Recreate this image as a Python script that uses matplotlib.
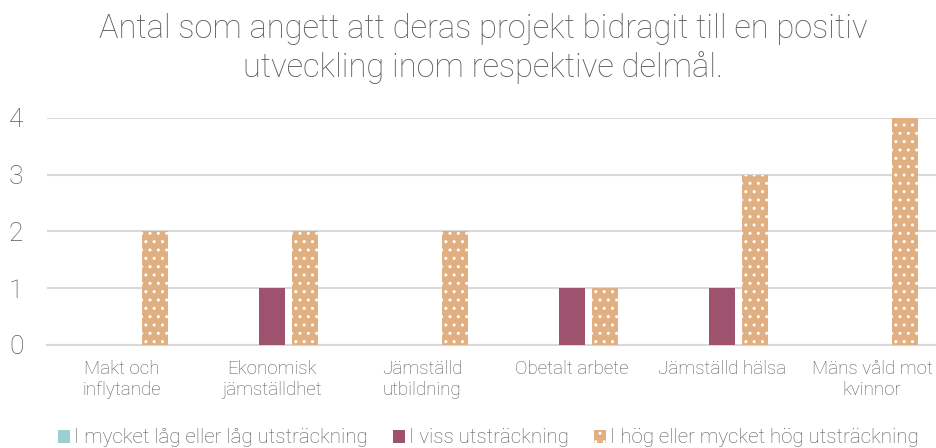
import matplotlib
matplotlib.use("Agg")
import matplotlib.pyplot as plt
import numpy as np

plt.rcParams['font.family'] = ['Roboto', 'DejaVu Sans']
plt.rcParams['font.weight'] = 'light'
plt.rcParams['hatch.linewidth'] = 1.0

title = "Antal som angett att deras projekt bidragit till en positiv\nutveckling inom respektive delmål."
categories = ["Makt och\ninflytande", "Ekonomisk\njämställdhet", "Jämställd\nutbildning",
              "Obetalt arbete", "Jämställd hälsa", "Mäns våld mot\nkvinnor"]
series_names = ["I mycket låg eller låg utsträckning", "I viss utsträckning",
                "I hög eller mycket hög utsträckning"]
low = [0, 0, 0, 0, 0, 0]
some = [0, 1, 0, 1, 1, 0]
high = [2, 2, 2, 1, 3, 4]
yticks = [0, 1, 2, 3, 4]

colors = ["#9ECFCF", "#9E526E", "#E0AF82"]
gray = "#595959"

fig = plt.figure(figsize=(9.37, 4.48), dpi=100)
ax = fig.add_axes([47 / 937, 0.23, 900 / 937, 0.507])

x = np.arange(len(categories))
w = 0.173
off = 0.22
ax.bar(x - off, low, w, color=colors[0], label=series_names[0], zorder=3)
ax.bar(x, some, w, color=colors[1], label=series_names[1], zorder=3)
ax.bar(x + off, high, w, color=colors[2], label=series_names[2], hatch='..',
       edgecolor='white', linewidth=0, zorder=3)

ax.set_xlim(-0.5, len(categories) - 0.5)
ax.set_ylim(0, 4)
ax.set_yticks(yticks)
ax.set_yticklabels([str(v) for v in yticks], fontsize=19, color=gray)
ax.set_xticks(x)
ax.set_xticklabels(categories, fontsize=13.5, color=gray)
ax.tick_params(axis='both', length=0)
ax.tick_params(axis='y', pad=17)
ax.tick_params(axis='x', pad=11)
ax.grid(axis='y', color='#D9D9D9', linewidth=1.5, zorder=0)
for s in ax.spines.values():
    s.set_visible(False)
ax.spines['bottom'].set_visible(True)
ax.spines['bottom'].set_color('#D9D9D9')
ax.spines['bottom'].set_linewidth(1.5)

fig.text(0.516, 0.97, title, ha='center', va='top', fontsize=23.5, color=gray,
         linespacing=1.2)

leg = fig.legend(loc='lower center', bbox_to_anchor=(0.521, -0.04), ncol=3, frameon=False,
                 fontsize=14.8, handlelength=0.6, handleheight=0.6, handletextpad=0.2,
                 columnspacing=1.2)
for t in leg.get_texts():
    t.set_color(gray)

fig.savefig("out.png", dpi=100)
